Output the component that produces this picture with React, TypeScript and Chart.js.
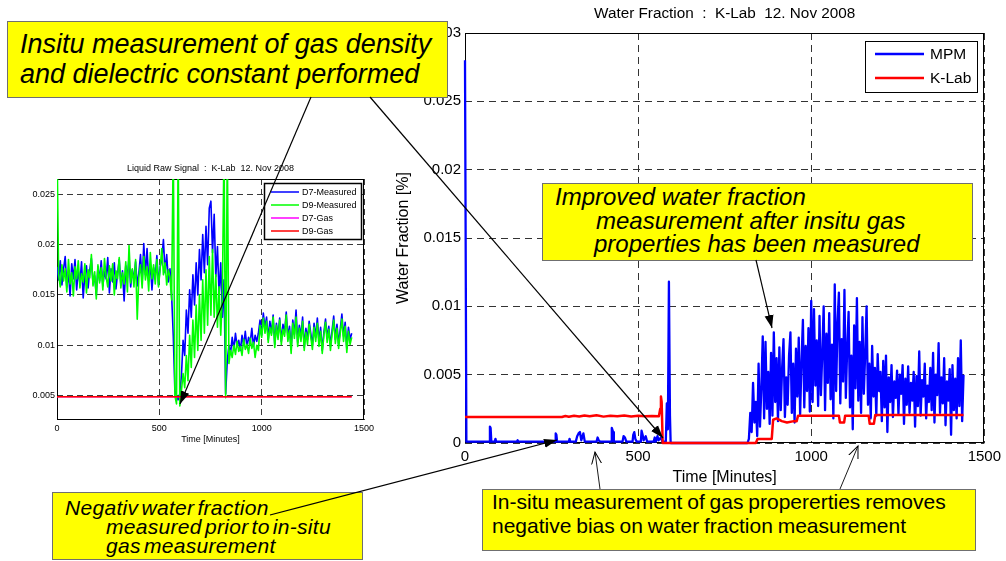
import React, { useEffect, useRef } from "react";
import { Chart, registerables } from "chart.js";

Chart.register(...registerables);

const FONT = '"Liberation Sans", Arial, Helvetica, sans-serif';
Chart.defaults.font.family = FONT;
Chart.defaults.color = "#000";

// ---------------- Left chart : Liquid Raw Signal ----------------
const leftTitle = "Liquid Raw Signal  :  K-Lab  12. Nov 2008";
const leftXLabel = "Time [Minutes]";
const leftXTicks = [0, 500, 1000, 1500];
const leftYTicks = [0.005, 0.01, 0.015, 0.02, 0.025];
const leftNames = ["D7-Measured", "D9-Measured", "D7-Gas", "D9-Gas"];
const leftColors = ["#0000FF", "#00FF00", "#FF00FF", "#FF0000"];

// sampled every 8 minutes from t = 0
const rawStart = 0;
const rawStep = 8;
const d7Measured = [
  0.0178, 0.0165, 0.0184, 0.016, 0.0176, 0.0188, 0.0158, 0.0172, 0.0149, 0.0181,
  0.0166, 0.0185, 0.0155, 0.0174, 0.0162, 0.0183, 0.0147, 0.017, 0.0179, 0.0157,
  0.0175, 0.0186, 0.0161, 0.0169, 0.015, 0.0178, 0.0164, 0.0184, 0.0159, 0.0173,
  0.0166, 0.0187, 0.0152, 0.0176, 0.0163, 0.0182, 0.0156, 0.0171, 0.0185, 0.016,
  0.0174, 0.0144, 0.0179, 0.0167, 0.0188, 0.0158, 0.0175, 0.0165, 0.0183, 0.0159,
  0.0172, 0.019, 0.0162, 0.0201, 0.017, 0.0196, 0.0164, 0.0181, 0.0155, 0.0177,
  0.0168, 0.0189, 0.016, 0.0178, 0.0185, 0.0205, 0.0172, 0.019, 0.0163, 0.0176,
  0.015, 0.011, 0.0055, 0.005, 0.0046, 0.0052, 0.007, 0.0105, 0.009, 0.0135,
  0.0112, 0.0155, 0.0128, 0.017, 0.014, 0.0182, 0.015, 0.0195, 0.0165, 0.021,
  0.0172, 0.0218, 0.018, 0.0236, 0.0243, 0.0192, 0.023, 0.0168, 0.0198, 0.015,
  0.0182, 0.0128, 0.0165, 0.0052, 0.0085, 0.01, 0.0092, 0.0108, 0.0096, 0.0112,
  0.0099, 0.0105, 0.0095, 0.011, 0.01, 0.0114, 0.0098, 0.0108, 0.0103, 0.0117,
  0.0099, 0.011, 0.0104, 0.0112, 0.0125, 0.011, 0.0132, 0.0118, 0.0128, 0.0106,
  0.0124, 0.0112, 0.013, 0.0101, 0.0122, 0.011, 0.0127, 0.0104, 0.0121, 0.0113,
  0.0133, 0.0108, 0.0119, 0.0096, 0.0125, 0.0111, 0.0135, 0.0103, 0.012, 0.0109,
  0.0128, 0.0098, 0.0117, 0.0106, 0.0124, 0.0112, 0.01, 0.0122, 0.0108, 0.0127,
  0.0104, 0.0118, 0.0095, 0.0113, 0.0126, 0.0107, 0.0119, 0.0099, 0.0115, 0.0129,
  0.0106, 0.0121, 0.0101, 0.0116, 0.0131, 0.0109, 0.0123, 0.0097, 0.0118, 0.0106, 0.0112,
];
const d9Measured = [
  0.03, 0.017, 0.0158, 0.018, 0.0164, 0.0176, 0.0153, 0.0185, 0.0161, 0.0172,
  0.0149, 0.0178, 0.0166, 0.0184, 0.0157, 0.0171, 0.0163, 0.0181, 0.0152, 0.0175,
  0.0167, 0.019, 0.0159, 0.0173, 0.0146, 0.018, 0.0162, 0.0177, 0.0155, 0.0186,
  0.0168, 0.0158, 0.0179, 0.0164, 0.0181, 0.015, 0.0174, 0.0166, 0.0187, 0.0157,
  0.0172, 0.0161, 0.0183, 0.0153, 0.0199, 0.0162, 0.0176, 0.0158, 0.0185, 0.0126,
  0.0168, 0.018, 0.0157, 0.0188, 0.0165, 0.0178, 0.0154, 0.0192, 0.0166, 0.018,
  0.0161, 0.0185, 0.0158, 0.0176, 0.0196, 0.017, 0.0182, 0.016, 0.0175, 0.0168,
  0.0145, 0.03, 0.005, 0.0042, 0.03, 0.004, 0.0055, 0.0072, 0.0058, 0.009,
  0.0065, 0.011, 0.0078, 0.0125, 0.0088, 0.014, 0.0095, 0.015, 0.0105, 0.0165,
  0.0112, 0.0175, 0.012, 0.0188, 0.013, 0.0195, 0.0128, 0.017, 0.0118, 0.0158,
  0.011, 0.015, 0.03, 0.0048, 0.03, 0.0082, 0.0095, 0.0088, 0.01, 0.0091,
  0.0104, 0.0094, 0.0099, 0.009, 0.0106, 0.0096, 0.0101, 0.0092, 0.0107, 0.0097,
  0.0103, 0.0088, 0.01, 0.0095, 0.012, 0.0108, 0.0127, 0.0112, 0.0124, 0.0103,
  0.0118, 0.011, 0.0128, 0.0098, 0.012, 0.0106, 0.0125, 0.0101, 0.0116, 0.0109,
  0.013, 0.0104, 0.0115, 0.0092, 0.0122, 0.0107, 0.0128, 0.0099, 0.0117, 0.0104,
  0.0124, 0.0095, 0.0113, 0.0101, 0.0121, 0.0108, 0.0096, 0.0118, 0.0104, 0.0122,
  0.0099, 0.0114, 0.0092, 0.011, 0.0123, 0.0103, 0.0116, 0.0095, 0.0111, 0.0125,
  0.0102, 0.0117, 0.0097, 0.0112, 0.0126, 0.0104, 0.0119, 0.0093, 0.0114, 0.0101, 0.0108,
];
const gasTime = [0, 1440];
const d7Gas = [0.0049, 0.0049];
const d9Gas = [0.0049, 0.0049];

// ---------------- Right chart : Water Fraction ----------------
const rightTitle = "Water Fraction  :  K-Lab  12. Nov 2008";
const rightXLabel = "Time [Minutes]";
const rightYLabel = "Water Fraction [%]";
const rightXTicks = [0, 500, 1000, 1500];
const rightYTicks = [0, 0.005, 0.01, 0.015, 0.02, 0.025, 0.03];
const rightNames = ["MPM", "K-Lab"];
const rightColors = ["#0000FF", "#FF0000"];

const mpmSparseTime = [
  0, 2, 4, 70, 72, 74, 76, 86, 88, 90, 150, 152, 154, 260, 262, 264, 266, 300, 302, 304,
  320, 324, 328, 332, 336, 342, 346, 380, 383, 386, 390, 422, 424, 428, 430, 455, 458, 462, 466,
  484, 486, 489, 492, 496, 508, 510, 513, 516, 522, 526, 545, 548, 551, 556, 559, 566, 570,
  580, 583, 586, 589, 592, 594, 816,
];
const mpmSparseValues = [
  0.028, 0.028, 0.0001, 0.0001, 0.0012, 0.0011, 0.0001, 0.0001, 0.0003, 0.0001, 0.0001, 0.0002, 0.0001,
  0.0001, 0.0007, 0.0006, 0.0001, 0.0001, 0.0003, 0.0001,
  0.0001, 0.0005, 0.0007, 0.0008, 0.0002, 0.0007, 0.0001, 0.0001, 0.0004, 0.0002, 0.0001,
  0.0001, 0.0011, 0.0008, 0.0001, 0.0001, 0.0005, 0.0004, 0.0001,
  0.0001, 0.0006, 0.0008, 0.0003, 0.0001, 0.0001, 0.0009, 0.0006, 0.0002, 0.0005, 0.0001,
  0.0001, 0.0004, 0.0001, 0.0005, 0.0002, 0.0004, 0.0001,
  0.0001, 0.0029, 0.001, 0.0118, 0.002, 0, 0,
];
// sampled every 4 minutes from t = 820
const mpmDenseStart = 820;
const mpmDenseStep = 4;
const mpmDenseValues = [
  0.0003, 0.0022, 0.0008, 0.0044, 0.0015, 0.003, 0.0005, 0.0058, 0.0012, 0.004,
  0.0078, 0.0018, 0.0074, 0.0025, 0.0052, 0.0014, 0.0066, 0.002, 0.0081, 0.003,
  0.0062, 0.0016, 0.007, 0.0024, 0.0055, 0.0076, 0.0019, 0.0048, 0.0028, 0.0064,
  0.0081, 0.0022, 0.0058, 0.0015, 0.0069, 0.0034, 0.0077, 0.0021, 0.006, 0.009,
  0.0026, 0.0071, 0.0038, 0.0084, 0.0023, 0.0104, 0.003, 0.0098, 0.0042, 0.0075,
  0.0027, 0.0093, 0.0035, 0.0066, 0.01, 0.0024, 0.008, 0.0044, 0.0095, 0.0032,
  0.0072, 0.0018, 0.0116, 0.0038, 0.0088, 0.011, 0.0029, 0.0076, 0.0045, 0.0112,
  0.0033, 0.007, 0.0096, 0.0026, 0.0064, 0.001, 0.0086, 0.004, 0.0106, 0.0031,
  0.0074, 0.0022, 0.0092, 0.0036, 0.0066, 0.01, 0.0028, 0.0058, 0.0018, 0.0071,
  0.0034, 0.0055, 0.002, 0.0065, 0.0038, 0.0052, 0.0016, 0.006, 0.0026, 0.0064,
  0.0008, 0.0048, 0.003, 0.0057, 0.0019, 0.0045, 0.0033, 0.0053, 0.0021, 0.005,
  0.0036, 0.0057, 0.0014, 0.0047, 0.0028, 0.0056, 0.0022, 0.0044, 0.0031, 0.0052,
  0.0012, 0.0049, 0.0027, 0.0067, 0.002, 0.0046, 0.0034, 0.0058, 0.0018, 0.0042,
  0.003, 0.0055, 0.0024, 0.0066, 0.0015, 0.005, 0.0035, 0.0073, 0.0022, 0.0048,
  0.0029, 0.0062, 0.0013, 0.0045, 0.0031, 0.0054, 0.0006, 0.0057, 0.0024, 0.0047,
  0.0018, 0.0062, 0.0027, 0.0075, 0.0016, 0.005,
];
const klabTime = [
  0, 280, 290, 300, 315, 330, 345, 360, 380, 400, 420, 440, 460, 480, 500, 520, 540, 560, 564, 566,
  568, 571, 840, 845, 886, 890, 900, 915, 930, 950, 958, 962, 1080, 1083, 1095, 1098, 1166, 1169,
  1181, 1185, 1440,
];
const klabValues = [
  0.0019, 0.0019, 0.00197, 0.00192, 0.00199, 0.00194, 0.00201, 0.00195, 0.00203, 0.00193,
  0.002, 0.00196, 0.00202, 0.00194, 0.00199, 0.00195, 0.00198, 0.00196, 0.0025, 0.0034,
  0.003, 0, 0, 0.0003, 0.0003, 0.0017, 0.0018, 0.0016, 0.0015, 0.0016,
  0.0016, 0.002, 0.002, 0.0015, 0.0015, 0.002, 0.002, 0.0014, 0.0014, 0.00205, 0.00205,
];

// ---------------- helpers ----------------
const pts = (xs: number[], ys: number[]) => ys.map((y, i) => ({ x: xs[i], y }));

type LegendCfg = {
  dx: number;
  dy: number;
  w: number;
  h: number;
  lineX0: number;
  lineX1: number;
  textX: number;
  rows: number[];
  fontSize: number;
  lineWidth: number;
  borderWidth: number;
};

function framePlugin(title: string, titleY: number, titleSize: number, lg: LegendCfg) {
  return {
    id: "matlabFrame",
    beforeDatasetsDraw(chart: any) {
      const { ctx, chartArea: a } = chart;
      ctx.save();
      ctx.strokeStyle = "#000";
      ctx.lineWidth = 1;
      ctx.strokeRect(
        Math.round(a.left) + 0.5,
        Math.round(a.top) + 0.5,
        Math.round(a.right - a.left) - 1,
        Math.round(a.bottom - a.top) - 1
      );
      ctx.restore();
    },
    afterDraw(chart: any) {
      const { ctx, chartArea: a } = chart;
      ctx.save();
      ctx.fillStyle = "#000";
      ctx.font = `${titleSize}px ${FONT}`;
      ctx.textAlign = "center";
      ctx.textBaseline = "middle";
      ctx.fillText(title, (a.left + a.right) / 2, titleY);

      const bx = Math.round(a.right - lg.dx - lg.w);
      const by = Math.round(a.top + lg.dy);
      ctx.fillStyle = "#fff";
      ctx.fillRect(bx, by, lg.w, lg.h);
      ctx.strokeStyle = "#000";
      ctx.lineWidth = lg.borderWidth;
      ctx.strokeRect(bx + 0.5, by + 0.5, lg.w, lg.h);
      ctx.font = `${lg.fontSize}px ${FONT}`;
      ctx.textAlign = "left";
      ctx.textBaseline = "middle";
      chart.data.datasets.forEach((ds: any, i: number) => {
        const y = by + lg.rows[i];
        ctx.strokeStyle = ds.borderColor;
        ctx.lineWidth = lg.lineWidth;
        ctx.beginPath();
        ctx.moveTo(bx + lg.lineX0, y);
        ctx.lineTo(bx + lg.lineX1, y);
        ctx.stroke();
        ctx.fillStyle = "#000";
        ctx.fillText(ds.label, bx + lg.textX, y + 0.5);
      });
      ctx.restore();
    },
  };
}

function leftConfig(): any {
  const rawTime = d7Measured.map((_, i) => rawStart + i * rawStep);
  const line = (label: string, color: string, data: any[], order: number, width: number) => ({
    label,
    data,
    borderColor: color,
    backgroundColor: color,
    borderWidth: width,
    pointRadius: 0,
    tension: 0,
    order,
    borderJoinStyle: "round",
  });
  return {
    type: "line",
    data: {
      datasets: [
        line(leftNames[0], leftColors[0], pts(rawTime, d7Measured), 3, 1.6),
        line(leftNames[1], leftColors[1], pts(rawTime, d9Measured), 2, 1.6),
        line(leftNames[2], leftColors[2], pts(gasTime, d7Gas), 1, 1.5),
        line(leftNames[3], leftColors[3], pts(gasTime, d9Gas), 0, 1.5),
      ],
    },
    options: {
      responsive: false,
      animation: false,
      events: [],
      layout: { padding: { left: 0, right: 16, top: 29, bottom: 0 } },
      plugins: { legend: { display: false }, title: { display: false }, tooltip: { enabled: false } },
      scales: {
        x: {
          type: "linear",
          min: 0,
          max: 1500,
          afterFit: (s: any) => { s.height = 30; },
          afterBuildTicks: (s: any) => { s.ticks = leftXTicks.map((v) => ({ value: v })); },
          ticks: { callback: (v: any) => String(v), font: { size: 9 }, color: "#000", padding: 3, maxRotation: 0, autoSkip: false },
          grid: { color: "#3a3a3a", drawTicks: false, lineWidth: 1 },
          border: { display: false, dash: [6, 4] },
          title: { display: true, text: leftXLabel, font: { size: 9 }, color: "#000", padding: { top: 0, bottom: 4.6 } },
        },
        y: {
          type: "linear",
          min: 0.0026,
          max: 0.0265,
          afterFit: (s: any) => { s.width = 57; },
          afterBuildTicks: (s: any) => { s.ticks = leftYTicks.map((v) => ({ value: v })); },
          ticks: { callback: (v: any) => String(v), font: { size: 9 }, color: "#000", padding: 2, autoSkip: false },
          grid: { color: "#3a3a3a", drawTicks: false, lineWidth: 1 },
          border: { display: false, dash: [6, 4] },
        },
      },
    },
    plugins: [
      framePlugin(leftTitle, 19, 9, {
        dx: 3, dy: 4, w: 97, h: 56, lineX0: 7, lineX1: 35, textX: 38,
        rows: [9, 22, 35, 48], fontSize: 9, lineWidth: 1.5, borderWidth: 1.5,
      }),
    ],
  };
}

function rightConfig(): any {
  const denseTime = mpmDenseValues.map((_, i) => mpmDenseStart + i * mpmDenseStep);
  const mpm = pts(mpmSparseTime, mpmSparseValues).concat(pts(denseTime, mpmDenseValues));
  return {
    type: "line",
    data: {
      datasets: [
        {
          label: rightNames[0], data: mpm, borderColor: rightColors[0], backgroundColor: rightColors[0],
          borderWidth: 2.3, pointRadius: 0, tension: 0, order: 1, borderJoinStyle: "round",
          clip: { left: 2, top: 0, right: 0, bottom: 2 },
        },
        {
          label: rightNames[1], data: pts(klabTime, klabValues), borderColor: rightColors[1], backgroundColor: rightColors[1],
          borderWidth: 2.5, pointRadius: 0, tension: 0, order: 0, borderJoinStyle: "round",
          clip: { left: 2, top: 0, right: 0, bottom: 2 },
        },
      ],
    },
    options: {
      responsive: false,
      animation: false,
      events: [],
      layout: { padding: { left: 0, right: 18, top: 33, bottom: 0 } },
      plugins: { legend: { display: false }, title: { display: false }, tooltip: { enabled: false } },
      scales: {
        x: {
          type: "linear",
          min: 0,
          max: 1500,
          afterFit: (s: any) => { s.height = 57; },
          afterBuildTicks: (s: any) => { s.ticks = rightXTicks.map((v) => ({ value: v })); },
          ticks: { callback: (v: any) => String(v), font: { size: 15 }, color: "#000", padding: 5, maxRotation: 0, autoSkip: false },
          grid: { color: "#333", drawTicks: false, lineWidth: 1 },
          border: { display: false, dash: [7, 5] },
          title: { display: true, text: rightXLabel, font: { size: 16 }, color: "#000", padding: { top: 0, bottom: 12.5 } },
        },
        y: {
          type: "linear",
          min: 0,
          max: 0.03,
          afterFit: (s: any) => { s.width = 75; },
          afterBuildTicks: (s: any) => { s.ticks = rightYTicks.map((v) => ({ value: v })); },
          ticks: { callback: (v: any) => String(v), font: { size: 15 }, color: "#000", padding: 4, autoSkip: false },
          grid: { color: "#333", drawTicks: false, lineWidth: 1 },
          border: { display: false, dash: [7, 5] },
          title: { display: true, text: rightYLabel, font: { size: 16 }, color: "#000", padding: { top: 3.5, bottom: 0 } },
        },
      },
    },
    plugins: [
      framePlugin(rightTitle, 14, 15.3, {
        dx: 7, dy: 8, w: 112, h: 51, lineX0: 10, lineX1: 59, textX: 65,
        rows: [13, 37], fontSize: 15.5, lineWidth: 2.5, borderWidth: 1,
      }),
    ],
  };
}

function ChartCanvas(props: { make: () => any; left: number; top: number; width: number; height: number }) {
  const ref = useRef<HTMLCanvasElement>(null);
  useEffect(() => {
    const chart = new Chart(ref.current as HTMLCanvasElement, props.make());
    return () => chart.destroy();
  }, []);
  return (
    <canvas
      ref={ref}
      width={props.width}
      height={props.height}
      style={{ position: "absolute", left: props.left, top: props.top, width: props.width, height: props.height }}
    />
  );
}

const boxBase: React.CSSProperties = {
  position: "absolute",
  background: "#FFFF00",
  border: "1px solid #6f6f6f",
  boxSizing: "border-box",
  color: "#000",
  fontFamily: FONT,
  whiteSpace: "pre",
  overflow: "hidden",
};

export default function App() {
  return (
    <div
      style={{
        position: "absolute",
        left: 0,
        top: 0,
        width: 1006,
        height: 561,
        overflow: "hidden",
        background: "#fff",
        fontFamily: FONT,
      }}
    >
      <ChartCanvas make={leftConfig} left={0} top={150} width={380} height={300} />
      <ChartCanvas make={rightConfig} left={390} top={0} width={616} height={500} />

      <div style={{ ...boxBase, left: 7, top: 21, width: 441, height: 77, fontSize: 27, fontStyle: "italic", lineHeight: "30px", paddingTop: 7, paddingLeft: 12 }}>
        <div>Insitu measurement of gas density</div>
        <div>and dielectric constant performed</div>
      </div>

      <div style={{ ...boxBase, left: 542, top: 183, width: 431, height: 78, fontSize: 24, fontStyle: "italic", lineHeight: "23.5px", paddingTop: 1 }}>
        <div style={{ marginLeft: 12 }}>Improved water fraction</div>
        <div style={{ marginLeft: 53 }}>measurement after insitu gas</div>
        <div style={{ marginLeft: 51 }}>properties has been measured</div>
      </div>

      <div style={{ ...boxBase, left: 52, top: 492, width: 311, height: 68, fontSize: 21, fontStyle: "italic", lineHeight: "19px", paddingTop: 5, letterSpacing: 0.3, wordSpacing: -3 }}>
        <div style={{ marginLeft: 12 }}>Negativ water fraction</div>
        <div style={{ marginLeft: 53 }}>measured prior to in-situ</div>
        <div style={{ marginLeft: 53 }}>gas measurement</div>
      </div>

      <div style={{ ...boxBase, left: 482, top: 489, width: 494, height: 62, fontSize: 21, lineHeight: "24.3px", paddingLeft: 9, wordSpacing: -1 }}>
        <div>In-situ measurement of gas propererties removes</div>
        <div>negative bias on water fraction measurement</div>
      </div>

      <svg width={1006} height={561} style={{ position: "absolute", left: 0, top: 0 }}>
        <defs>
          <marker id="fill" markerUnits="userSpaceOnUse" markerWidth="14" markerHeight="10" refX="13" refY="5" orient="auto">
            <path d="M0,0.5 L13,5 L0,9.5 Z" fill="#000" />
          </marker>
          <marker id="open" markerUnits="userSpaceOnUse" markerWidth="14" markerHeight="12" refX="12" refY="6" orient="auto">
            <path d="M0,1 L12,6 L0,11" fill="none" stroke="#000" strokeWidth="1" />
          </marker>
        </defs>
        <g stroke="#000" strokeWidth="1.2" fill="none">
          <line x1={311} y1={97} x2={180} y2={404} markerEnd="url(#fill)" />
          <line x1={370} y1={97} x2={663} y2={438} markerEnd="url(#fill)" />
          <line x1={756} y1={260} x2={772} y2={328} markerEnd="url(#fill)" />
          <line x1={270} y1={515} x2={557} y2={440} markerEnd="url(#fill)" />
          <line x1={600} y1={489} x2={595} y2={452} strokeWidth="0.9" markerEnd="url(#open)" />
          <line x1={840} y1={489} x2={858} y2={446} strokeWidth="0.9" markerEnd="url(#open)" />
        </g>
      </svg>
    </div>
  );
}
